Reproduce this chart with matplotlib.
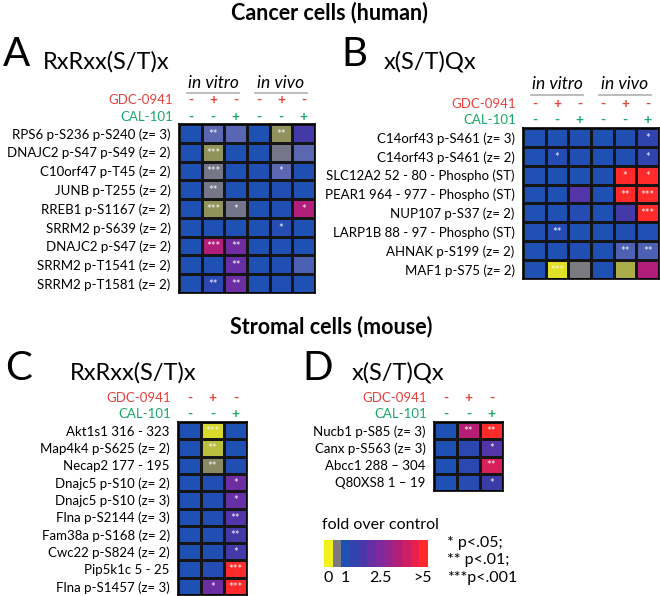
import numpy as np
import matplotlib
matplotlib.use("Agg")
import matplotlib.pyplot as plt
import matplotlib.transforms as mtransforms
from matplotlib.colors import LinearSegmentedColormap

plt.rcParams['font.family'] = ['Lato', 'DejaVu Sans']

W, H = 660, 596
RED = '#e8413c'
GREEN = '#1aa86a'

# ---- data -------------------------------------------------------------
gdc_6 = ['-', '+', '-', '-', '+', '-']
cal_6 = ['-', '-', '+', '-', '-', '+']
gdc_3 = ['-', '+', '-']
cal_3 = ['-', '-', '+']

rows_a = ['RPS6 p-S236 p-S240 (z= 3)', 'DNAJC2 p-S47 p-S49 (z= 2)',
          'C10orf47 p-T45 (z= 2)', 'JUNB p-T255 (z= 2)', 'RREB1 p-S1167 (z= 2)',
          'SRRM2 p-S639 (z= 2)', 'DNAJC2 p-S47 (z= 2)', 'SRRM2 p-T1541 (z= 2)',
          'SRRM2 p-T1581 (z= 2)']
fold_a = [[1.0, 0.8, 0.82, 1.0, 0.38, 1.6],
          [1.0, 0.38, 1.0, 1.0, 0.6, 0.8],
          [1.0, 0.6, 1.0, 1.05, 0.8, 1.05],
          [1.0, 0.6, 1.0, 1.0, 1.05, 1.0],
          [1.0, 0.38, 0.62, 1.0, 1.05, 3.5],
          [1.0, 1.0, 1.0, 1.0, 1.1, 1.0],
          [1.0, 3.5, 2.3, 1.0, 1.0, 1.0],
          [1.0, 1.0, 2.1, 1.0, 1.05, 0.85],
          [1.0, 1.2, 2.2, 1.0, 1.05, 1.0]]
stars_a = [['', '**', '', '', '**', ''],
           ['', '***', '', '', '', ''],
           ['', '***', '', '', '*', ''],
           ['', '**', '', '', '', ''],
           ['', '***', '*', '', '', '*'],
           ['', '', '', '', '*', ''],
           ['', '***', '**', '', '', ''],
           ['', '', '**', '', '', ''],
           ['', '**', '**', '', '', '']]

rows_b = ['C14orf43 p-S461 (z= 3)', 'C14orf43 p-S461 (z= 2)',
          'SLC12A2 52 - 80 - Phospho (ST)', 'PEAR1 964 - 977 - Phospho (ST)',
          'NUP107 p-S37 (z= 2)', 'LARP1B 88 - 97 - Phospho (ST)',
          'AHNAK p-S199 (z= 2)', 'MAF1 p-S75 (z= 2)']
fold_b = [[1.0, 1.0, 1.05, 1.0, 1.05, 1.3],
          [1.0, 1.1, 1.05, 1.0, 1.05, 1.3],
          [1.0, 1.0, 1.0, 1.05, 5.0, 5.0],
          [1.0, 1.0, 1.8, 1.0, 5.0, 5.0],
          [1.0, 1.0, 1.1, 1.0, 1.6, 5.0],
          [1.0, 1.1, 1.0, 1.0, 1.05, 1.0],
          [1.0, 1.0, 1.05, 1.0, 0.85, 0.85],
          [1.0, 0.08, 0.55, 1.0, 0.3, 3.5]]
stars_b = [['', '', '', '', '', '*'],
           ['', '*', '', '', '', '*'],
           ['', '', '', '', '*', '*'],
           ['', '', '', '', '**', '***'],
           ['', '', '', '', '', '***'],
           ['', '**', '', '', '', ''],
           ['', '', '', '', '**', '**'],
           ['', '***', '', '', '', '']]

rows_c = ['Akt1s1 316 - 323', 'Map4k4 p-S625 (z= 2)', 'Necap2 177 - 195',
          'Dnajc5 p-S10 (z= 2)', 'Dnajc5 p-S10 (z= 3)', 'Flna p-S2144 (z= 3)',
          'Fam38a p-S168 (z= 2)', 'Cwc22 p-S824 (z= 2)', 'Pip5k1c 5 - 25',
          'Flna p-S1457 (z= 3)']
fold_c = [[1.0, 0.12, 1.0],
          [1.0, 0.25, 1.0],
          [1.0, 0.42, 1.05],
          [1.0, 1.05, 2.2],
          [1.0, 1.05, 2.1],
          [1.0, 1.05, 1.8],
          [1.0, 1.05, 1.6],
          [1.0, 1.05, 1.6],
          [1.0, 1.1, 5.0],
          [1.0, 2.2, 5.0]]
stars_c = [['', '***', ''], ['', '**', ''], ['', '**', ''], ['', '', '*'],
           ['', '', '*'], ['', '', '**'], ['', '', '**'], ['', '', '*'],
           ['', '', '***'], ['', '*', '***']]

rows_d = ['Nucb1 p-S85 (z= 3)', 'Canx p-S563 (z= 3)', 'Abcc1 288 \u2013 304',
          'Q80XS8 1 \u2013 19']
fold_d = [[1.0, 3.6, 5.0],
          [1.0, 1.2, 1.8],
          [1.0, 1.2, 4.2],
          [1.0, 1.15, 1.5]]
stars_d = [['', '**', '**'], ['', '', '*'], ['', '', '**'], ['', '', '*']]

legend_fold = [0, 0.55, 1.0, 1.35, 1.7, 2.1, 2.5, 3.0, 3.5, 4.0, 4.5, 5.0]
legend_ticks = ['0', '1', '2.5', '>5']
legend_tick_idx = [0, 2, 6, 10.9]

# fold -> colour anchors
cmap_nodes = [(0.0, '#f2f21a'), (0.25, '#b8bc40'), (0.4, '#8a8a62'),
              (0.55, '#7a7a80'), (0.8, '#5a66b4'), (1.0, '#1f50b4'),
              (1.5, '#3c3ca8'), (2.0, '#6230a8'), (2.5, '#7e2a9e'),
              (3.5, '#b01e7a'), (4.5, '#e8204c'), (5.0, '#ff2a2a')]
cmap = LinearSegmentedColormap.from_list(
    'fold', [(v / 5.0, c) for v, c in cmap_nodes])

fig = plt.figure(figsize=(W / 100, H / 100), dpi=100)


def fx(x):
    return x / W


def fy(y):
    return 1 - y / H


def px_axes(left, top, right, bottom):
    return fig.add_axes([fx(left), fy(bottom), (right - left) / W, (bottom - top) / H])


def heatmap(box, rows, fold, stars, gdc, cal, lab_x, gdc_y, cal_y):
    ax = px_axes(*box)
    fold = np.array(fold)
    nr, nc = fold.shape
    ax.pcolormesh(np.arange(nc + 1), np.arange(nr + 1), fold, cmap=cmap,
                  vmin=0, vmax=5, edgecolors='#151515', linewidth=1)
    ax.set_xlim(0, nc)
    ax.set_ylim(nr, 0)
    ax.set_xticks([])
    ax.set_yticks(np.arange(nr) + 0.5, rows, fontsize=9.5)
    ax.tick_params(length=0, pad=6)
    for s in ax.spines.values():
        s.set_linewidth(1.2)
    for i in range(nr):
        for j in range(nc):
            if stars[i][j]:
                ax.text(j + 0.5, i + 0.55, stars[i][j], ha='center', va='center',
                        color='#f4f4f4', fontsize=8)
    top = box[1]
    for j in range(nc):
        t1 = mtransforms.offset_copy(ax.transData, fig=fig, y=top - gdc_y, units='dots')
        t2 = mtransforms.offset_copy(ax.transData, fig=fig, y=top - cal_y, units='dots')
        ax.text(j + 0.5, 0, gdc[j], transform=t1, ha='center', va='center',
                color=RED, fontsize=10, fontweight='bold', clip_on=False)
        ax.text(j + 0.5, 0, cal[j], transform=t2, ha='center', va='center',
                color=GREEN, fontsize=10, fontweight='bold', clip_on=False)
    fig.text(fx(lab_x), fy(gdc_y), 'GDC-0941', color=RED, ha='right', va='center', fontsize=9.5)
    fig.text(fx(lab_x), fy(cal_y), 'CAL-101', color=GREEN, ha='right', va='center', fontsize=9.5)
    return ax


def vitro_vivo(ax, top, text_y, line_y):
    for j0, lab in [(0, 'in vitro'), (3, 'in vivo')]:
        t = mtransforms.offset_copy(ax.transData, fig=fig, y=top - text_y, units='dots')
        ax.text(j0 + 1.5, 0, lab, transform=t, ha='center', va='center',
                fontsize=12.5, style='italic', clip_on=False)
        t = mtransforms.offset_copy(ax.transData, fig=fig, y=top - line_y, units='dots')
        ax.plot([j0 + 0.35, j0 + 2.65], [0, 0], transform=t, color='#b0b0b0',
                lw=1.2, clip_on=False)


# titles
fig.text(fx(329), fy(13), 'Cancer cells (human)', ha='center', va='center',
         fontsize=15.5, fontweight='bold')
fig.text(fx(331), fy(327), 'Stromal cells (mouse)', ha='center', va='center',
         fontsize=15.5, fontweight='bold')
for x, y, letter in [(3, 54, 'A'), (341, 54, 'B'), (5, 368, 'C'), (302, 368, 'D')]:
    fig.text(fx(x), fy(y), letter, ha='left', va='center', fontsize=29)
for x, y, motif in [(43, 62, 'RxRxx(S/T)x'), (384, 62, 'x(S/T)Qx'),
                    (70, 373, 'RxRxx(S/T)x'), (352, 373, 'x(S/T)Qx')]:
    fig.text(fx(x), fy(y), motif, ha='left', va='center', fontsize=17)

ax_a = heatmap((179, 124, 315, 293), rows_a, fold_a, stars_a, gdc_6, cal_6, 173, 100, 117)
vitro_vivo(ax_a, 124, 83, 93)
ax_b = heatmap((523, 128, 659, 279), rows_b, fold_b, stars_b, gdc_6, cal_6, 516, 104, 120)
vitro_vivo(ax_b, 128, 84, 95)
heatmap((178, 422, 247, 595), rows_c, fold_c, stars_c, gdc_3, cal_3, 171, 398, 414)
heatmap((434, 422, 503, 491), rows_d, fold_d, stars_d, gdc_3, cal_3, 427, 398, 414)

# legend colour bar
cax = px_axes(324, 540, 428, 567)
cax.pcolormesh(np.arange(len(legend_fold) + 1), [0, 1], np.array([legend_fold]),
               cmap=cmap, vmin=0, vmax=5)
cax.set_xlim(0, len(legend_fold))
cax.set_yticks([])
cax.set_xticks(np.array(legend_tick_idx) + 0.5, legend_ticks, fontsize=11.5)
cax.tick_params(length=0, pad=3)
for s in cax.spines.values():
    s.set_visible(False)
fig.text(fx(380), fy(525), 'fold over control', ha='center', va='center', fontsize=11.5)
for y, s in [(543, '* p<.05;'), (560, '** p<.01;'), (578, '***p<.001')]:
    fig.text(fx(447), fy(y), s, ha='left', va='center', fontsize=11.5)

fig.savefig('out.png', dpi=100)
